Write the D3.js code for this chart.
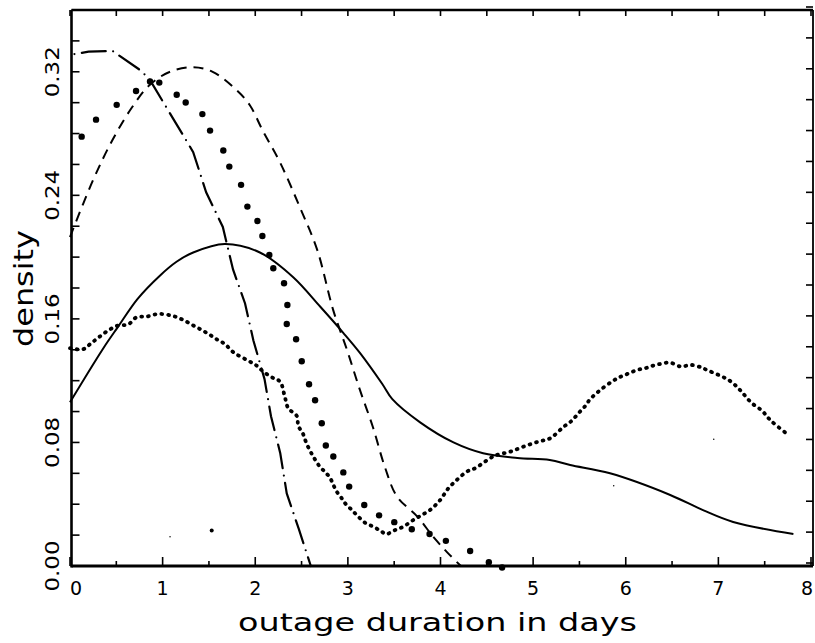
<!DOCTYPE html>
<html>
<head>
<meta charset="utf-8">
<script src="https://cdn.jsdelivr.net/npm/d3@7/dist/d3.min.js"></script>
<style>
  html, body { margin: 0; padding: 0; background: #fff; }
  svg { display: block; }
  text { font-family: "DejaVu Sans", sans-serif; fill: #000; }
</style>
</head>
<body>
<svg id="chart" width="815" height="643"></svg>
<script>
// Kernel density estimates of outage duration (days)
const xTickValues = [0, 1, 2, 3, 4, 5, 6, 7, 8];
const xTickLabels = ["0", "1", "2", "3", "4", "5", "6", "7", "8"];
const yTickValues = [0, 0.08, 0.16, 0.24, 0.32];
const yTickLabels = ["0.00", "0.08", "0.16", "0.24", "0.32"];

// solid curve
const solidSeries = [
  [0, 0.106], [0.36, 0.141], [0.52, 0.155], [0.73, 0.173], [0.97, 0.188],
  [1.15, 0.197], [1.33, 0.203], [1.67, 0.2085], [2.05, 0.203], [2.41, 0.187], [2.70, 0.168],
  [2.95, 0.151], [3.13, 0.138], [3.37, 0.118], [3.48, 0.108], [3.78, 0.093],
  [4.14, 0.080], [4.46, 0.073], [4.83, 0.070], [5.18, 0.0687], [5.40, 0.0654],
  [5.83, 0.060], [6.48, 0.046], [6.84, 0.036], [7.16, 0.0285], [7.81, 0.0207]
];

// long dash / dot curve
const dashDotSeries = [
  [0, 0.331], [0.2, 0.333], [0.46, 0.3335], [0.76, 0.321], [0.86, 0.315],
  [1.11, 0.290], [1.33, 0.268], [1.47, 0.242], [1.65, 0.2195], [1.76, 0.192],
  [1.89, 0.170], [1.98, 0.146], [2.10, 0.121], [2.17, 0.097], [2.27, 0.073],
  [2.34, 0.047], [2.47, 0.024], [2.60, 0.0]
];

// short dash curve
const dashSeries = [
  [0, 0.213], [0.25, 0.250], [0.46, 0.276], [0.67, 0.297], [0.86, 0.3115],
  [1.08, 0.320], [1.33, 0.323], [1.54, 0.320], [1.80, 0.308], [1.94, 0.2985],
  [2.08, 0.282], [2.27, 0.261], [2.48, 0.2325], [2.67, 0.2045], [2.84, 0.166],
  [2.99, 0.140], [3.13, 0.114], [3.27, 0.090], [3.40, 0.064], [3.53, 0.045],
  [3.75, 0.032], [3.92, 0.019], [4.07, 0.009], [4.22, 0.0]
];

// large dots
const bigDotSeries = [
  [0.126, 0.278], [0.281, 0.289], [0.504, 0.2986], [0.713, 0.3076], [0.864, 0.3137],
  [0.964, 0.3130], [1.152, 0.3051], [1.249, 0.3001], [1.429, 0.2926], [1.512, 0.2819],
  [1.655, 0.2690], [1.720, 0.2586], [1.847, 0.2468], [1.915, 0.2327], [2.023, 0.2234],
  [2.077, 0.2137], [2.152, 0.2014], [2.195, 0.1928], [2.311, 0.1831], [2.347, 0.1690],
  [2.340, 0.1567], [2.441, 0.1468], [2.502, 0.1326], [2.581, 0.1177], [2.646, 0.1073],
  [2.718, 0.0924], [2.762, 0.0780], [2.843, 0.0709], [2.951, 0.0606], [3.014, 0.0514],
  [3.177, 0.0395], [3.337, 0.0328], [3.501, 0.0284], [3.690, 0.0238], [3.882, 0.0207],
  [4.058, 0.0163], [4.320, 0.0097], [4.522, 0.0025], [4.665, -0.001]
];

// small dense dots
const smallDotSeries = [
  [0, 0.141], [0.144, 0.1404], [0.216, 0.1436], [0.306, 0.1479], [0.396, 0.1518],
  [0.504, 0.1554], [0.630, 0.1565], [0.720, 0.1611], [0.828, 0.1615], [0.954, 0.1632],
  [1.098, 0.1621], [1.206, 0.1598], [1.332, 0.1557], [1.422, 0.1528], [1.512, 0.1496],
  [1.584, 0.1468], [1.674, 0.1436], [1.764, 0.1384], [1.908, 0.1334], [2.016, 0.1297],
  [2.088, 0.1258], [2.196, 0.1216], [2.268, 0.1194], [2.322, 0.1088], [2.357, 0.1021],
  [2.448, 0.0972], [2.465, 0.0907], [2.513, 0.0859], [2.556, 0.0790], [2.627, 0.0708],
  [2.700, 0.0641], [2.754, 0.0609], [2.808, 0.0570], [2.843, 0.0525], [2.880, 0.0481],
  [2.934, 0.0438], [2.970, 0.0406], [3.042, 0.0363], [3.096, 0.0330], [3.186, 0.0280],
  [3.275, 0.0255], [3.366, 0.0222], [3.413, 0.0207], [3.510, 0.0233], [3.599, 0.0255],
  [3.707, 0.0298], [3.798, 0.0330], [3.888, 0.0363], [3.996, 0.0427], [4.085, 0.0503],
  [4.176, 0.0557], [4.284, 0.0611], [4.374, 0.0633], [4.536, 0.0698], [4.608, 0.0719],
  [4.752, 0.0740], [4.895, 0.0773], [5.057, 0.0805], [5.184, 0.0827], [5.327, 0.0900],
  [5.418, 0.0941], [5.489, 0.0989], [5.562, 0.1036], [5.616, 0.1080], [5.716, 0.1135],
  [5.850, 0.1194], [5.932, 0.1222], [6.018, 0.1244], [6.120, 0.1269], [6.209, 0.1280],
  [6.282, 0.1295], [6.371, 0.1308], [6.479, 0.1317], [6.595, 0.1291], [6.703, 0.1302],
  [6.822, 0.1284], [6.876, 0.1269], [7.001, 0.1237], [7.109, 0.1205], [7.200, 0.1161],
  [7.271, 0.1114], [7.362, 0.1054], [7.470, 0.1006], [7.567, 0.0941], [7.757, 0.0848]
];

// isolated specks on the plot: [x, density, size]
const strayPoints = [[1.53, 0.023, 3.0], [1.08, 0.019, 1.1], [5.87, 0.052, 1.1], [6.95, 0.082, 1.1]];

const svg = d3.select("#chart");
const x = d3.scaleLinear().domain([0, 8]).range([70, 811]);
const y = d3.scaleLinear().domain([0, 0.36]).range([566, 10]);

const frame = { left: 71.5, right: 813, top: 10, bottom: 566 };

// ticks: bottom (upward) and top (downward) every half day
const halfSteps = d3.range(0, 8.01, 0.5);
const tickG = svg.append("g").attr("stroke", "#000");
tickG.selectAll(".tb").data(halfSteps).join("line")
  .attr("x1", d => x(d)).attr("x2", d => x(d))
  .attr("y1", frame.bottom).attr("y2", d => frame.bottom - (d % 1 === 0 ? 9 : 5))
  .attr("stroke-width", 1.6);
tickG.selectAll(".tt").data(halfSteps).join("line")
  .attr("x1", d => x(d)).attr("x2", d => x(d))
  .attr("y1", frame.top).attr("y2", frame.top + 6)
  .attr("stroke-width", 1.6);

// left and right ticks every 0.02
const ySteps = d3.range(0, 0.3601, 0.02);
tickG.selectAll(".tl").data(ySteps).join("line")
  .attr("x1", frame.left).attr("x2", frame.left + 8)
  .attr("y1", d => y(d)).attr("y2", d => y(d))
  .attr("stroke-width", 1.6);
tickG.selectAll(".tr").data(ySteps).join("line")
  .attr("x1", frame.right).attr("x2", frame.right - 7)
  .attr("y1", d => y(d) - 3).attr("y2", d => y(d) - 3)
  .attr("stroke-width", 1.6);

// frame
svg.append("line").attr("x1", frame.left).attr("x2", frame.left).attr("y1", frame.top).attr("y2", frame.bottom + 1.5)
  .attr("stroke", "#000").attr("stroke-width", 2.6);
svg.append("line").attr("x1", frame.left).attr("x2", frame.right).attr("y1", frame.bottom).attr("y2", frame.bottom)
  .attr("stroke", "#000").attr("stroke-width", 3);
svg.append("line").attr("x1", frame.left).attr("x2", frame.right).attr("y1", frame.top).attr("y2", frame.top)
  .attr("stroke", "#000").attr("stroke-width", 2.6);
svg.append("line").attr("x1", frame.right).attr("x2", frame.right).attr("y1", frame.top).attr("y2", frame.bottom)
  .attr("stroke", "#000").attr("stroke-width", 1.8);

// tick labels
const lastX = xTickValues.length - 1;
svg.selectAll(".xl").data(xTickValues).join("text")
  .attr("x", (d, i) => x(d) + (i === 0 ? 6 : i === lastX ? -4 : 0))
  .attr("y", 595)
  .attr("text-anchor", "middle")
  .attr("font-size", 19)
  .text((d, i) => xTickLabels[i]);

svg.selectAll(".yl").data(yTickValues).join("text")
  .attr("transform", d => `translate(58.5,${y(d)}) rotate(-90)`)
  .attr("text-anchor", "middle")
  .attr("font-size", 20)
  .attr("textLength", 51)
  .attr("lengthAdjust", "spacingAndGlyphs")
  .text((d, i) => yTickLabels[i]);

// axis titles
svg.append("text")
  .attr("x", 238).attr("y", 631)
  .attr("font-size", 25)
  .attr("textLength", 399)
  .attr("lengthAdjust", "spacingAndGlyphs")
  .text("outage duration in days");

svg.append("text")
  .attr("transform", "translate(33,347) rotate(-90)")
  .attr("font-size", 26)
  .attr("textLength", 117)
  .attr("lengthAdjust", "spacingAndGlyphs")
  .text("density");

// curves
const line = d3.line().x(d => x(d[0])).y(d => y(d[1]));
const smooth = d3.line().x(d => x(d[0])).y(d => y(d[1])).curve(d3.curveCatmullRom.alpha(0.5));

svg.append("path").datum(solidSeries)
  .attr("d", smooth).attr("fill", "none").attr("stroke", "#000").attr("stroke-width", 2);

svg.append("path").datum(dashSeries)
  .attr("d", smooth).attr("fill", "none").attr("stroke", "#000").attr("stroke-width", 2)
  .attr("stroke-dasharray", "10 7");

svg.append("path").datum(dashDotSeries)
  .attr("d", line).attr("fill", "none").attr("stroke", "#000").attr("stroke-width", 2.2)
  .attr("stroke-linecap", "round")
  .attr("stroke-dasharray", "24 7.5 0 7.5")
  .attr("stroke-dashoffset", -12);

svg.append("path").datum(smallDotSeries)
  .attr("d", smooth).attr("fill", "none").attr("stroke", "#000").attr("stroke-width", 3.8)
  .attr("stroke-linecap", "round")
  .attr("stroke-dasharray", "0.8 6");

svg.selectAll(".bd").data(bigDotSeries).join("circle")
  .attr("cx", d => x(d[0])).attr("cy", d => y(d[1])).attr("r", 3.2).attr("fill", "#000");

svg.selectAll(".sp").data(strayPoints).join("circle")
  .attr("cx", d => x(d[0])).attr("cy", d => y(d[1])).attr("r", d => d[2] / 1.5).attr("fill", "#000");
</script>
</body>
</html>
